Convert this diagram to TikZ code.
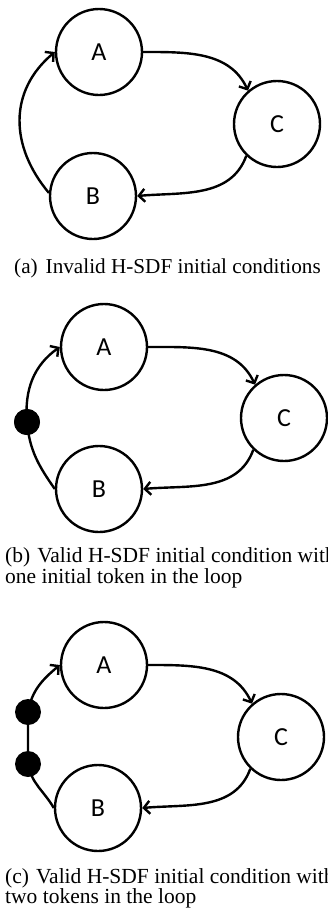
\documentclass[tikz,border=0pt]{standalone}
\usepackage{fontspec}
\setmainfont{Liberation Serif}
\newfontfamily\nodefont{Carlito}
\usetikzlibrary{arrows.meta}
\begin{document}
\begin{tikzpicture}[x=1pt,y=1pt,
  actor/.style={circle,draw,line width=2.4pt,minimum size=86pt,inner sep=0pt,
    font=\nodefont\fontsize{26}{26}\selectfont},
  token/.style={circle,fill,inner sep=0pt,minimum size=26pt},
  edge/.style={line width=2.4pt,-{Straight Barb[length=6pt,width=13pt]}},
  capt/.style={anchor=base west,inner sep=0pt,font=\fontsize{21.5}{21}\selectfont}]
\useasboundingbox (0,0) rectangle (328,-913);

% (a) no initial tokens
\node[actor] (Aa) at (99,-52) {A};
\node[actor] (Ca) at (277,-124) {C};
\node[actor] (Ba) at (93,-196) {B};
\draw[edge] (Aa.east) to[out=0,in=115] (Ca.131);
\draw[edge] (Ca.226) to[out=-110,in=5] (Ba.east);
\draw[edge] (Ba.176) to[out=130,in=-140,looseness=1.1] (Aa.west);
\node[capt,font=\fontsize{21.2}{21}\selectfont] (capa) at (14,-273)
  {(a)\hspace{8pt}Invalid H-SDF initial conditions};

% (b) one token on the loop edge
\node[actor] (Ab) at (104,-347) {A};
\node[actor] (Cb) at (284,-418) {C};
\node[actor] (Bb) at (99,-489) {B};
\draw[edge] (Ab.east) to[out=0,in=115] (Cb.131);
\draw[edge] (Cb.226) to[out=-110,in=5] (Bb.east);
\node[token] (tb) at (27,-422) {};
\draw[edge] (Bb.west) to[out=125,in=-85] (tb.center) to[out=95,in=-145] (Ab.west);
\node[token] at (tb) {};
\node[capt] (capb1) at (5,-562) {(b)\hspace{7pt}Valid H-SDF initial condition with};
\node[capt] (capb2) at (5,-583) {one initial token in the loop};

% (c) two tokens on the loop edge
\node[actor] (Ac) at (104,-665) {A};
\node[actor] (Cc) at (281,-737) {C};
\node[actor] (Bc) at (98,-808) {B};
\draw[edge] (Ac.east) to[out=0,in=115] (Cc.131);
\draw[edge] (Cc.226) to[out=-110,in=5] (Bc.east);
\coordinate (tc1) at (28,-712);
\coordinate (tc2) at (28,-764);
\draw[edge] (Bc.west) to[out=120,in=-80] (tc2) -- (tc1) to[out=80,in=-140] (Ac.west);
\node[token] (tk1) at (tc1) {};
\node[token] (tk2) at (tc2) {};
\node[capt] (capc1) at (5,-883) {(c)\hspace{7pt}Valid H-SDF initial condition with};
\node[capt] (capc2) at (5,-903) {two tokens in the loop};
\end{tikzpicture}
\end{document}
